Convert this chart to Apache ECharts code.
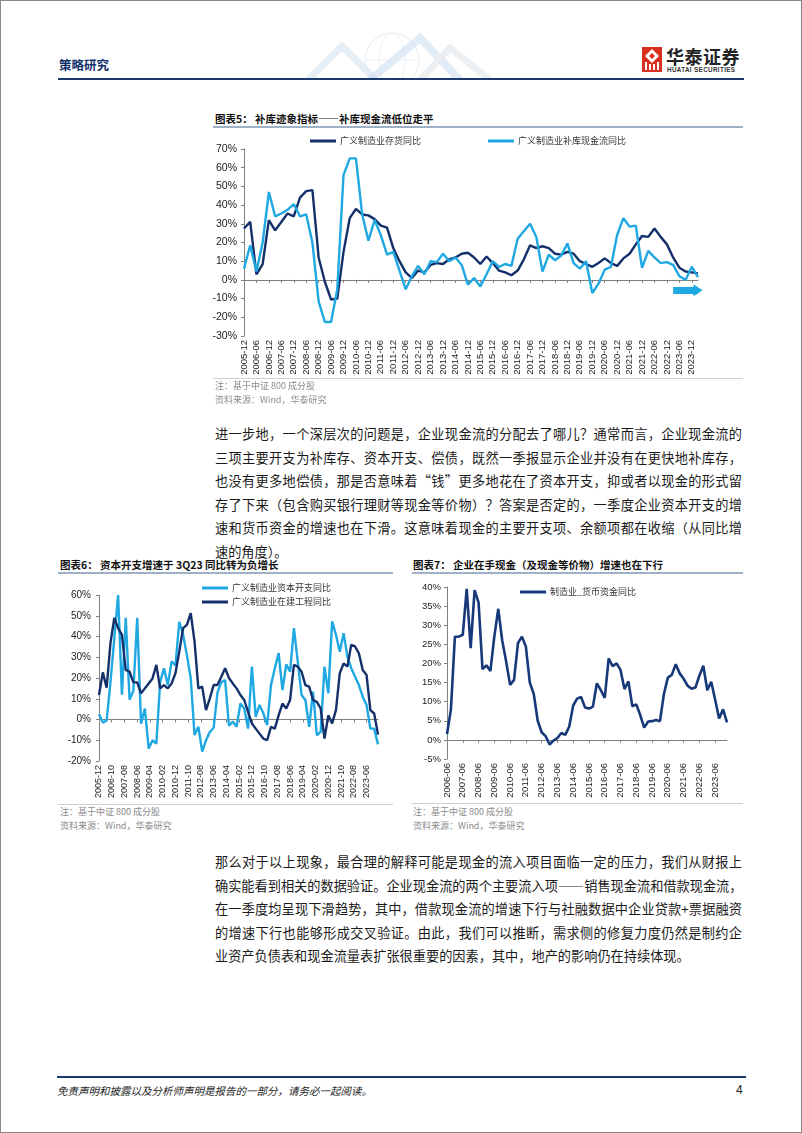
<!DOCTYPE html>
<html lang="zh-CN">
<head>
<meta charset="utf-8">
<script src="https://cdn.jsdelivr.net/npm/echarts@6/dist/echarts.min.js"></script>
<style>
html,body{margin:0;padding:0;background:#fff;}
#page{position:relative;width:802px;height:1133px;overflow:hidden;background:#fff;font-family:"Noto Sans CJK SC",sans-serif;color:#1a1a1a;}
.abs{position:absolute;}
.frame{position:absolute;left:0;top:0;width:802px;height:1133px;box-sizing:border-box;border:1px solid #8a8a8a;pointer-events:none;z-index:20;}
.title{position:absolute;font-size:10.5px;font-weight:bold;line-height:14px;white-space:nowrap;color:#111;z-index:5;}
.tline{position:absolute;height:2px;background:#9fb1c7;z-index:5;}
.nline{position:absolute;height:1px;background:#cfcfcf;z-index:5;}
.note{position:absolute;font-size:9px;line-height:12px;color:#8c8c8c;white-space:nowrap;z-index:5;}
.body{position:absolute;left:215px;width:527px;font-size:13.2px;line-height:23.5px;color:#1a1a1a;}
.body div{text-align:justify;text-align-last:justify;height:23.5px;white-space:nowrap;}
.body div.last{text-align:left;text-align-last:left;}
.chart{position:absolute;z-index:1;}
</style>
</head>
<body>
<div id="page">
  <!-- header -->
  <div class="abs" style="left:59px;top:57px;font-size:12.5px;font-weight:bold;color:#12306b;line-height:16px;">策略研究</div>
  <svg class="abs" style="left:300px;top:30px;opacity:0.55" width="230" height="50">
    <circle cx="92" cy="30" r="27" fill="none" stroke="#d6dce4" stroke-width="1"/>
    <ellipse cx="92" cy="30" rx="13" ry="27" fill="none" stroke="#dfe4ea" stroke-width="1"/>
    <line x1="65" y1="30" x2="119" y2="30" stroke="#dfe4ea"/>
    <polyline points="8,50 42,16 76,50" fill="none" stroke="#c6d8ee" stroke-width="7" opacity="0.8"/>
    <polyline points="70,50 120,8 160,50" fill="none" stroke="#a9c6e8" stroke-width="8" opacity="0.6"/>
    <polyline points="120,50 150,18 190,50" fill="none" stroke="#d8dde4" stroke-width="7" opacity="0.8"/>
  </svg>
  <svg class="abs" style="left:642px;top:47px" width="20" height="25" viewBox="0 0 20 25">
    <rect x="0" y="0" width="20" height="25" fill="#d9301f"/>
    <path d="M10 2 L17 9 L10 16 L3 9 Z" fill="#fff"/>
    <path d="M10 6 L13 9 L10 12 L7 9 Z" fill="#d9301f"/>
    <rect x="3" y="15" width="2" height="8" fill="#fff"/>
    <rect x="7" y="17" width="2" height="6" fill="#fff"/>
    <rect x="11" y="17" width="2" height="6" fill="#fff"/>
    <rect x="15" y="15" width="2" height="8" fill="#fff"/>
  </svg>
  <div class="abs" style="left:666px;top:46px;font-size:18px;font-weight:bold;line-height:20px;color:#222;letter-spacing:0.5px;">华泰证券</div>
  <div class="abs" style="left:667px;top:66px;font-size:6.3px;font-weight:bold;line-height:8px;color:#333;font-family:'Liberation Sans',Arial,sans-serif;letter-spacing:0.35px;">HUATAI SECURITIES</div>
  <div class="abs" style="left:58px;top:78px;width:686px;height:2px;background:#1b3a6e;"></div>

  <!-- chart 5 -->
  <div class="title" style="left:215px;top:112px;">图表5：&nbsp;补库迹象指标——补库现金流低位走平</div>
  <div class="tline" style="left:213px;top:126px;width:530px;"></div>
  <div id="c5" class="chart" style="left:200px;top:130px;width:560px;height:250px;"></div>
  <div class="nline" style="left:213px;top:378px;width:530px;"></div>
  <div class="note" style="left:215px;top:380px;">注：基于中证 800 成分股</div>
  <div class="note" style="left:215px;top:394px;">资料来源：Wind，华泰研究</div>

  <!-- paragraph 1 -->
  <div class="body" style="top:422px;">
    <div>进一步地，一个深层次的问题是，企业现金流的分配去了哪儿？通常而言，企业现金流的</div>
    <div>三项主要开支为补库存、资本开支、偿债，既然一季报显示企业并没有在更快地补库存，</div>
    <div>也没有更多地偿债，那是否意味着“钱”更多地花在了资本开支，抑或者以现金的形式留</div>
    <div>存了下来（包含购买银行理财等现金等价物）？答案是否定的，一季度企业资本开支的增</div>
    <div>速和货币资金的增速也在下滑。这意味着现金的主要开支项、余额项都在收缩（从同比增</div>
    <div class="last">速的角度）。</div>
  </div>

  <!-- chart 6 -->
  <div class="title" style="left:60px;top:558px;">图表6：&nbsp;资本开支增速于 3Q23 同比转为负增长</div>
  <div class="tline" style="left:58px;top:572px;width:335px;"></div>
  <div id="c6" class="chart" style="left:40px;top:575px;width:360px;height:228px;"></div>
  <div class="nline" style="left:58px;top:804px;width:335px;"></div>
  <div class="note" style="left:60px;top:806px;">注：基于中证 800 成分股</div>
  <div class="note" style="left:60px;top:820px;">资料来源：Wind，华泰研究</div>

  <!-- chart 7 -->
  <div class="title" style="left:413px;top:558px;">图表7：&nbsp;企业在手现金（及现金等价物）增速也在下行</div>
  <div class="tline" style="left:412px;top:572px;width:331px;"></div>
  <div id="c7" class="chart" style="left:400px;top:575px;width:350px;height:228px;"></div>
  <div class="nline" style="left:412px;top:803px;width:331px;"></div>
  <div class="note" style="left:413px;top:806px;">注：基于中证 800 成分股</div>
  <div class="note" style="left:413px;top:820px;">资料来源：Wind，华泰研究</div>

  <!-- paragraph 2 -->
  <div class="body" style="top:850px;">
    <div>那么对于以上现象，最合理的解释可能是现金的流入项目面临一定的压力，我们从财报上</div>
    <div>确实能看到相关的数据验证。企业现金流的两个主要流入项——销售现金流和借款现金流，</div>
    <div>在一季度均呈现下滑趋势，其中，借款现金流的增速下行与社融数据中企业贷款+票据融资</div>
    <div>的增速下行也能够形成交叉验证。由此，我们可以推断，需求侧的修复力度仍然是制约企</div>
    <div class="last">业资产负债表和现金流量表扩张很重要的因素，其中，地产的影响仍在持续体现。</div>
  </div>

  <!-- footer -->
  <div class="abs" style="left:57px;top:1076px;width:689px;height:2px;background:#1b3a6e;"></div>
  <div class="abs" style="left:57px;top:1083px;font-size:10.5px;font-style:italic;line-height:15px;color:#222;">免责声明和披露以及分析师声明是报告的一部分，请务必一起阅读。</div>
  <div class="abs" style="left:736px;top:1082px;font-size:12px;line-height:16px;color:#222;font-family:'Liberation Sans',Arial,sans-serif;">4</div>
  <div class="frame"></div>
</div>

<script>
// ---------- helpers for date categories ----------
function monthSeq(startY, startM, count, step) {
  var out = [], y = startY, m = startM;
  for (var i = 0; i < count; i++) {
    out.push(y + '-' + (m < 10 ? '0' + m : '' + m));
    m += step;
    while (m > 12) { m -= 12; y++; }
  }
  return out;
}

// ---------- chart 5 data (quarterly, 2005-12 .. 2024-03) ----------
var c5Categories = monthSeq(2005, 12, 74, 3);
var c5InventoryYoY = [27.5, 31, 3, 8.5, 32, 26.5, 31, 35.5, 34, 44, 47.5, 48, 12, -1, -10.5, -10, 15, 33, 38, 35,
  34.5, 32.5, 29, 28, 17, 10, 4, 1, 5, 4, 8, 9, 8.5, 11, 12, 14, 14.5, 12, 8.5, 12.5,
  9, 5, 4, 2.5, 5, 11, 18.5, 17, 18, 17, 14, 13.5, 15, 14, 10, 8.5, 7, 9, 11.5, 9,
  7.5, 11.5, 14, 19, 23.5, 23, 27.5, 23, 19, 12, 6.5, 4.5, 4, 3.5];
var c5RestockCashYoY = [6, 18.5, 4.5, 20, 47, 34, 35.5, 37.5, 40.5, 34, 35, 20, -11.5, -22.5, -22.5, -5, 56, 65, 65, 35,
  21, 32, 24, 13.5, 15, 5, -5, 2, 7.5, 3, 10, 9.5, 14, 10, 12, 8, -2.5, 1, -3.5, 3,
  10, 7, 8.5, 7.5, 22, 26, 30, 23, 4.5, 13.5, 10.5, 13, 19.5, 9, 6, 10, -7, -2, 5.5, 7,
  24, 33, 28.5, 29, 6.5, 15.5, 12, 9, 9.5, 8, 2, 0, 7, 1.5];
var c5Names = ['广义制造业存货同比', '广义制造业补库现金流同比'];
var c5ArrowLevel = -5.5;          // arrow annotation value
var c5ArrowFrom = 69, c5ArrowTo = 73; // category indices

// ---------- chart 6 data (quarterly points on a monthly axis, 2005-12 .. 2024-03) ----------
var c6Months = monthSeq(2005, 12, 220, 1);
var c6Quarters = monthSeq(2005, 12, 74, 3);
var c6CapexYoY = [2.5, -1.5, -0.5, 18, 39, 60, 12, 49, 9.5, 14, 49, -2, 5.3, -14, -10, -11.6, 18, 24.7, 16.6, 28,
  26, 47, 41, 31, 20, -7.5, -3.5, -15.5, -10, -6, -4, 13, 18, 19, -3, -1, -3.5, 7.7, 5.3, -4.4,
  25.5, 1.3, 7, 3, -2.7, 16.6, 24.7, 32, 14.2, 26.6, 23, 44, 28, 11.8, 9.4, -3.5, 13.4, -7.6, -6, 25.5,
  12.6, 47.3, 40.8, 32.7, 41.6, 30.3, 24.7, 20.6, 16.6, 11, 7, -4.4, -4.4, -12];
var c6CIPYoY = [11.8, 22.7, 15.3, 36.8, 48.9, 44, 40.8, 23.9, 23, 17.9, 17.9, 12.6, 15, 17.4, 19.8, 26.3, 15, 16.6, 15, 17.4,
  22.3, 32.7, 44, 45.6, 51.3, 37.6, 15, 15.8, 4.5, 10.2, 16.6, 16.6, 20.6, 24.7, 20, 17.4, 15, 11.8, 9.4, 3.7,
  -1.9, -4.4, -6.8, -9.2, -10, -3.5, -4.4, 2, 7.7, 5.3, 9.4, 26.3, 25.5, 23, 16.6, 15.8, 9.4, 8.5, 5.3, -9.2,
  2, -1.9, 4.5, 22.3, 27, 25.5, 36, 35.2, 31.9, 23.9, 21.5, 4.5, 2.9, -7.3];
var c6Names = ['广义制造业资本开支同比', '广义制造业在建工程同比'];

// ---------- chart 7 data (quarterly, 2006-06 .. 2024-03) ----------
var c7Categories = monthSeq(2006, 6, 72, 3);
var c7CashYoY = [1.5, 8, 27, 27, 27.5, 39.5, 24, 39.2, 36, 18.5, 19.5, 18, 27, 34.3, 26, 20.5, 14.4, 15.7, 25.3, 27,
  24.4, 15, 12, 5, 2, 1, -1.2, -0.2, 0.5, 1.8, 1.3, 3.5, 9, 10.8, 11.2, 8.5, 8.2, 8.7, 14.8, 13,
  11, 21.3, 19.3, 20, 18.3, 13.3, 15.3, 8.8, 9.3, 6.5, 3.2, 4.8, 4.9, 5.2, 4.9, 12, 16.3, 17, 19.8, 17.4,
  16, 14.2, 13.4, 13.7, 16.8, 19.4, 13, 15.2, 10.5, 5.6, 8, 4.6];
var c7Name = '制造业_货币资金同比';

// ---------- styles ----------
var DARK = '#14306b', LIGHT = '#1fa8e2', NAVY7 = '#17397a';
var AXIS = '#808080';
var NUMFONT = "'Liberation Sans', Arial, sans-serif";
var CJK = "'Noto Sans CJK SC', sans-serif";

function legendItem(name, left, top, orient) {
  return {
    data: Array.isArray(name) ? name : [name], left: left, top: top, orient: orient || 'horizontal',
    padding: 0, icon: 'rect', itemWidth: 26, itemHeight: 3, itemGap: 2,
    textStyle: { fontFamily: CJK, fontSize: 9, color: '#333', lineHeight: 12, padding: [0, 0, 0, -1] }
  };
}
function pctAxis(min, max, interval, size, margin) {
  return {
    type: 'value', min: min, max: max, interval: interval,
    axisLine: { show: true, lineStyle: { color: AXIS, width: 1 } },
    axisTick: { show: true, length: 3, lineStyle: { color: AXIS } },
    splitLine: { show: false },
    axisLabel: { formatter: '{value}%', fontFamily: NUMFONT, fontSize: size, color: '#222', margin: margin }
  };
}
function xAxes(cats, interval, size) {
  return [
    { type: 'category', data: cats, boundaryGap: false,
      axisLine: { show: false, onZero: false }, axisTick: { show: false },
      axisLabel: { rotate: 90, interval: interval, fontFamily: NUMFONT, fontSize: size, color: '#222', margin: 4 } },
    { type: 'category', data: cats, boundaryGap: false, position: 'bottom',
      axisLine: { show: true, onZero: true, lineStyle: { color: AXIS, width: 1 } },
      axisTick: { show: true, interval: interval, length: 3, lineStyle: { color: AXIS } },
      axisLabel: { show: false } }
  ];
}
function line(name, data, color, width) {
  return { name: name, type: 'line', data: data, xAxisIndex: 0, yAxisIndex: 0, symbol: 'none',
    lineStyle: { color: color, width: width }, itemStyle: { color: color }, emphasis: { disabled: true } };
}

// ---------- chart 5 ----------
var c5 = echarts.init(document.getElementById('c5'));
var s5b = line(c5Names[1], c5RestockCashYoY, LIGHT, 2.4);
s5b.markLine = {
  silent: true, animation: false, symbol: ['none', 'triangle'], symbolSize: [12, 9],
  label: { show: false }, emphasis: { disabled: true },
  lineStyle: { color: LIGHT, width: 7, type: 'solid' },
  data: [[{ coord: [c5ArrowFrom, c5ArrowLevel] }, { coord: [c5ArrowTo, c5ArrowLevel] }]]
};
c5.setOption({
  animation: false,
  legend: [legendItem(c5Names[0], 110, 5), legendItem(c5Names[1], 288, 5)],
  grid: { left: 44, top: 19, width: 454, height: 187, containLabel: false, outerBoundsMode: 'none' },
  xAxis: xAxes(c5Categories, 1, 9.5),
  yAxis: pctAxis(-30, 70, 10, 10.5, 7),
  series: [line(c5Names[0], c5InventoryYoY, DARK, 2.4), s5b]
});

// ---------- chart 6 ----------
function pairs(quarters, values) {
  return values.map(function (v, i) { return [quarters[i], v]; });
}
var c6 = echarts.init(document.getElementById('c6'));
c6.setOption({
  animation: false,
  legend: [legendItem(c6Names, 162, 7, 'vertical')],
  grid: { left: 59, top: 20, width: 279, height: 166, containLabel: false, outerBoundsMode: 'none' },
  xAxis: xAxes(c6Months, 9, 9),
  yAxis: pctAxis(-20, 60, 10, 10, 8),
  series: [line(c6Names[0], pairs(c6Quarters, c6CapexYoY), LIGHT, 2.4),
           line(c6Names[1], pairs(c6Quarters, c6CIPYoY), DARK, 2.4)]
});

// ---------- chart 7 ----------
var c7 = echarts.init(document.getElementById('c7'));
c7.setOption({
  animation: false,
  legend: [legendItem(c7Name, 120, 11)],
  grid: { left: 47, top: 12, width: 280, height: 172, containLabel: false, outerBoundsMode: 'none' },
  xAxis: xAxes(c7Categories, 3, 9.5),
  yAxis: pctAxis(-5, 40, 5, 9.5, 6),
  series: [line(c7Name, c7CashYoY, NAVY7, 2.6)]
});
</script>
</body>
</html>
